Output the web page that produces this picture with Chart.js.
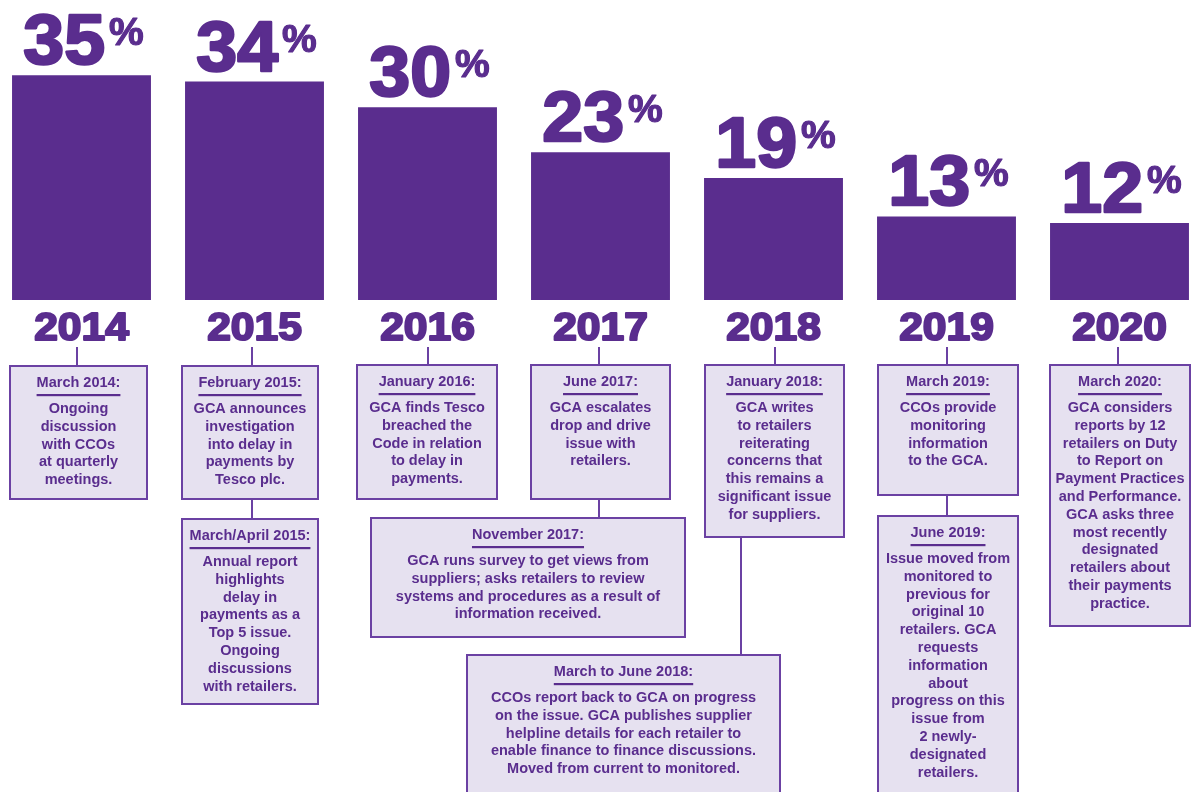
<!DOCTYPE html>
<html>
<head>
<meta charset="utf-8">
<script src="https://cdn.jsdelivr.net/npm/chart.js@4.4.1/dist/chart.umd.min.js"></script>
<style>
  html, body { margin: 0; padding: 0; background: #ffffff; overflow: hidden; width: 1192px; height: 792px; }
  #c { position: absolute; left: -5px; top: 0; }
</style>
</head>
<body>
<canvas id="c" width="1211" height="792"></canvas>
<script>
// ---- data ----
const years = ['2014', '2015', '2016', '2017', '2018', '2019', '2020'];
const shares = [35, 34, 30, 23, 19, 13, 12];
const eventTitles = [
  'March 2014:', 'February 2015:', 'March/April 2015:', 'January 2016:', 'June 2017:',
  'November 2017:', 'January 2018:', 'March to June 2018:', 'March 2019:', 'June 2019:', 'March 2020:'
];
const eventTexts = [
  ['Ongoing', 'discussion', 'with CCOs', 'at quarterly', 'meetings.'],
  ['GCA announces', 'investigation', 'into delay in', 'payments by', 'Tesco plc.'],
  ['Annual report', 'highlights', 'delay in', 'payments as a', 'Top 5 issue.', 'Ongoing', 'discussions', 'with retailers.'],
  ['GCA finds Tesco', 'breached the', 'Code in relation', 'to delay in', 'payments.'],
  ['GCA escalates', 'drop and drive', 'issue with', 'retailers.'],
  ['GCA runs survey to get views from', 'suppliers; asks retailers to review', 'systems and procedures as a result of', 'information received.'],
  ['GCA writes', 'to retailers', 'reiterating', 'concerns that', 'this remains a', 'significant issue', 'for suppliers.'],
  ['CCOs report back to GCA on progress', 'on the issue. GCA publishes supplier', 'helpline details for each retailer to', 'enable finance to finance discussions.', 'Moved from current to monitored.'],
  ['CCOs provide', 'monitoring', 'information', 'to the GCA.'],
  ['Issue moved from', 'monitored to', 'previous for', 'original 10', 'retailers. GCA', 'requests', 'information', 'about', 'progress on this', 'issue from', '2 newly-', 'designated', 'retailers.'],
  ['GCA considers', 'reports by 12', 'retailers on Duty', 'to Report on', 'Payment Practices', 'and Performance.', 'GCA asks three', 'most recently', 'designated', 'retailers about', 'their payments', 'practice.']
];

// ---- layout of annotation boxes (category position, width px, top/bottom px) ----
const boxLayout = [
  { pos: -0.017, w: 137, top: 366, bottom: 499, yearLine: -0.026 },
  { pos: 0.974, w: 136, top: 366, bottom: 499, yearLine: 0.986 },
  { pos: 0.974, w: 136, top: 519, bottom: 704, linkFrom: 1, linkX: 0.986 },
  { pos: 1.997, w: 140, top: 365, bottom: 499, yearLine: 2.003 },
  { pos: 3.0, w: 139, top: 365, bottom: 499, yearLine: 2.994 },
  { pos: 2.581, w: 314, top: 518, bottom: 637, linkFrom: 4, linkX: 2.994 },
  { pos: 4.006, w: 139, top: 365, bottom: 537, yearLine: 4.009 },
  { pos: 3.133, w: 313, top: 655, bottom: 800, linkFrom: 6, linkX: 3.812 },
  { pos: 5.009, w: 140, top: 365, bottom: 495, yearLine: 5.003 },
  { pos: 5.009, w: 140, top: 516, bottom: 800, linkFrom: 8, linkX: 5.003 },
  { pos: 6.003, w: 140, top: 365, bottom: 626, yearLine: 5.994 }
];

const PURPLE = '#5a2d8e';
const BORDER = '#6b41a3';
const FILL = '#e6e1f0';
const FONT = '"Liberation Sans", Arial, sans-serif';

function heavyText(ctx, text, x, y, size, sx, stroke) {
  ctx.save();
  ctx.translate(x, y);
  ctx.scale(sx, 1);
  ctx.font = 'bold ' + size + 'px ' + FONT;
  ctx.textAlign = 'left';
  ctx.textBaseline = 'alphabetic';
  ctx.fillStyle = PURPLE;
  ctx.strokeStyle = PURPLE;
  ctx.lineWidth = stroke;
  ctx.lineJoin = 'round';
  ctx.strokeText(text, 0, 0);
  ctx.fillText(text, 0, 0);
  ctx.restore();
}

const infoPlugin = {
  id: 'info',
  afterDatasetsDraw(chart) {
    const ctx = chart.ctx;
    const xs = chart.scales.x;
    const meta = chart.getDatasetMeta(0);
    ctx.save();
    // percentage labels
    meta.data.forEach((bar, i) => {
      const numTxt = String(shares[i]);
      const sx = 1.05;
      ctx.font = 'bold 70px ' + FONT;
      const wn = ctx.measureText(numTxt).width * sx;
      ctx.font = 'bold 39px ' + FONT;
      const wp = ctx.measureText('%').width;
      const gap = 4;
      const total = wn + gap + wp;
      const x0 = bar.x + 2 - total / 2;
      const base = bar.y - 11;
      heavyText(ctx, numTxt, x0, base, 70, sx, 2.5);
      heavyText(ctx, '%', x0 + wn + gap, base - 19, 39, 1.0, 1.2);
    });
    // year labels
    meta.data.forEach((bar, i) => {
      const sx = 1.12;
      ctx.font = 'bold 38px ' + FONT;
      const w = ctx.measureText(years[i]).width * sx;
      heavyText(ctx, years[i], bar.x - w / 2, 340, 38, sx, 2);
    });
    // connectors
    ctx.strokeStyle = BORDER;
    ctx.lineWidth = 2;
    boxLayout.forEach((b, i) => {
      if (b.yearLine !== undefined) {
        const x = Math.round(xs.getPixelForValue(b.yearLine));
        ctx.beginPath(); ctx.moveTo(x, 347); ctx.lineTo(x, b.top); ctx.stroke();
      }
      if (b.linkFrom !== undefined) {
        const x = Math.round(xs.getPixelForValue(b.linkX));
        ctx.beginPath(); ctx.moveTo(x, boxLayout[b.linkFrom].bottom); ctx.lineTo(x, b.top); ctx.stroke();
      }
    });
    // boxes
    boxLayout.forEach((b, i) => {
      const cx = xs.getPixelForValue(b.pos);
      const left = Math.round(cx - b.w / 2);
      ctx.fillStyle = FILL;
      ctx.fillRect(left, b.top, b.w, b.bottom - b.top);
      ctx.strokeStyle = BORDER;
      ctx.lineWidth = 2;
      ctx.strokeRect(left, b.top, b.w, b.bottom - b.top);
      const tcx = left + b.w / 2;
      ctx.fillStyle = PURPLE;
      ctx.textAlign = 'center';
      ctx.textBaseline = 'middle';
      ctx.font = 'bold 14.5px ' + FONT;
      ctx.fillText(eventTitles[i], tcx, b.top + 17);
      const tw = ctx.measureText(eventTitles[i]).width;
      ctx.fillRect(tcx - tw / 2, b.top + 28, tw, 2.2);
      eventTexts[i].forEach((line, k) => {
        ctx.fillText(line, tcx, b.top + 43 + k * 17.8);
      });
    });
    ctx.restore();
  }
};

new Chart(document.getElementById('c'), {
  type: 'bar',
  data: {
    labels: years,
    datasets: [{
      data: shares,
      backgroundColor: PURPLE,
      borderWidth: 0,
      barPercentage: 0.803,
      categoryPercentage: 1.0
    }]
  },
  options: {
    responsive: false,
    animation: false,
    events: [],
    layout: { padding: { left: 0, right: 0, top: 0, bottom: 492 } },
    plugins: { legend: { display: false }, tooltip: { enabled: false } },
    scales: {
      x: { display: false, offset: true },
      y: { display: false, min: 0, max: 46.7, beginAtZero: true }
    }
  },
  plugins: [infoPlugin]
});
</script>
</body>
</html>
